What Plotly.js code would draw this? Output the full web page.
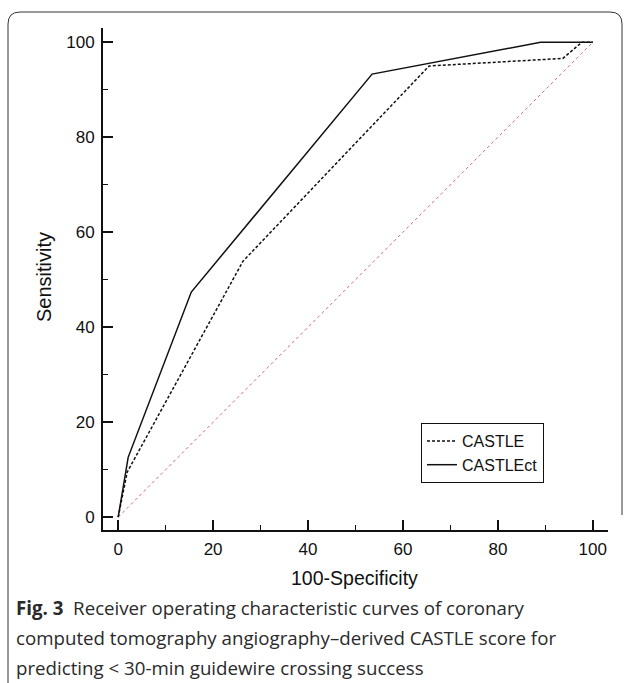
<!DOCTYPE html>
<html>
<head>
<meta charset="utf-8">
<script src="https://cdn.plot.ly/plotly-3.0.1.min.js"></script>
<style>html,body{margin:0;padding:0;background:#fff;}#chart{width:630px;height:683px;}</style>
</head>
<body>
<div id="chart"></div>
<script>
// Data
const castleX   = [0, 1.9, 26.3, 65.5, 93.7, 97.7, 100];
const castleY   = [0, 9.5, 53.9, 95.0, 96.6, 100, 100];
const castleCtX = [0, 2.1, 15.4, 53.5, 89.0, 100];
const castleCtY = [0, 12.6, 47.4, 93.3, 100, 100];
const refX = [0, 100];
const refY = [0, 100];
const seriesNames = ["CASTLE", "CASTLEct"];
const tickVals = [0, 20, 40, 60, 80, 100];
const xTitle = "100-Specificity";
const yTitle = "Sensitivity";
const captionLines = [
  "<b>Fig. 3</b>  Receiver operating characteristic curves of coronary",
  "computed tomography angiography–derived CASTLE score for",
  "predicting < 30-min guidewire crossing success"
];

// pixel helpers (plot area: x 103..608, y 28..530)
const L = 103, R = 608, T = 28, B = 530;
const px = v => (v - L) / (R - L);
const py = v => (B - v) / (B - T);

const traces = [
  {x: refX, y: refY, mode: 'lines', showlegend: false, hoverinfo: 'skip',
   line: {color: '#d46a6a', width: 1, dash: 'dot'}},
  {x: castleX, y: castleY, mode: 'lines', name: seriesNames[0],
   line: {color: '#111', width: 1.5, dash: '3px,2px'}},
  {x: castleCtX, y: castleCtY, mode: 'lines', name: seriesNames[1],
   line: {color: '#111', width: 1.5}}
];

const sans = 'Liberation Sans, Arial, sans-serif';
const axisFont = {family: sans, size: 17, color: '#111'};

const annotations = captionLines.map((t, i) => ({
  text: t, xref: 'paper', yref: 'paper', x: px(14), y: py(607 + 30 * i),
  xanchor: 'left', yanchor: 'middle', showarrow: false,
  font: {family: 'Open Sans, sans-serif', size: 18.7, color: '#2a2a2a'}
}));
annotations.push({text: yTitle, xref: 'paper', yref: 'paper', x: px(44), y: py(277),
  xanchor: 'center', yanchor: 'middle', textangle: -90, showarrow: false,
  font: {family: sans, size: 20, color: '#111'}});
annotations.push({text: xTitle, xref: 'paper', yref: 'paper', x: px(354), y: py(578),
  xanchor: 'center', yanchor: 'middle', showarrow: false,
  font: {family: sans, size: 19.5, color: '#111'}});

const framePath =
  'M ' + px(8) + ' ' + py(683) +
  ' L ' + px(8) + ' ' + py(24) +
  ' Q ' + px(8) + ' ' + py(12) + ' ' + px(20) + ' ' + py(12) +
  ' L ' + px(610) + ' ' + py(12) +
  ' Q ' + px(622) + ' ' + py(12) + ' ' + px(622) + ' ' + py(24) +
  ' L ' + px(622) + ' ' + py(515);

const layout = {
  width: 630, height: 683,
  margin: {l: L, r: 630 - R, t: T, b: 683 - B},
  paper_bgcolor: '#fff', plot_bgcolor: '#fff',
  showlegend: true,
  legend: {x: px(421), y: py(423), xanchor: 'left', yanchor: 'top',
    bordercolor: '#111', borderwidth: 1, bgcolor: '#fff',
    font: {family: sans, size: 16, color: '#111'},
    itemwidth: 30, tracegroupgap: 0},
  xaxis: {range: [-3.2, 103.2], tickvals: tickVals, showgrid: false, zeroline: false,
    showline: true, linecolor: '#111', linewidth: 2, ticks: 'inside', ticklen: 10,
    tickwidth: 2, tickcolor: '#111', tickfont: axisFont, ticklabelstandoff: 3,
    minor: {dtick: 10, tick0: 0, ticks: 'inside', ticklen: 5, tickwidth: 1, tickcolor: '#111', showgrid: false}},
  yaxis: {range: [-2.7, 103], tickvals: tickVals, showgrid: false, zeroline: false,
    showline: true, linecolor: '#111', linewidth: 2, ticks: 'inside', ticklen: 10,
    tickwidth: 2, tickcolor: '#111', tickfont: axisFont, ticklabelstandoff: 3,
    minor: {dtick: 10, tick0: 0, ticks: 'inside', ticklen: 5, tickwidth: 1, tickcolor: '#111', showgrid: false}},
  shapes: [{type: 'path', xref: 'paper', yref: 'paper', path: framePath,
    line: {color: '#333', width: 1}}],
  annotations: annotations
};

Plotly.newPlot('chart', traces, layout, {displayModeBar: false, staticPlot: true});
</script>
</body>
</html>
